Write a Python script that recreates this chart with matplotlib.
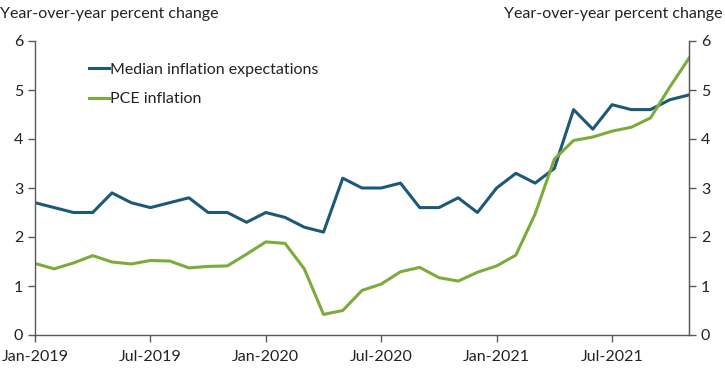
import matplotlib
matplotlib.use("Agg")
import matplotlib.pyplot as plt

months = ["Jan-2019", "Feb-2019", "Mar-2019", "Apr-2019", "May-2019", "Jun-2019",
          "Jul-2019", "Aug-2019", "Sep-2019", "Oct-2019", "Nov-2019", "Dec-2019",
          "Jan-2020", "Feb-2020", "Mar-2020", "Apr-2020", "May-2020", "Jun-2020",
          "Jul-2020", "Aug-2020", "Sep-2020", "Oct-2020", "Nov-2020", "Dec-2020",
          "Jan-2021", "Feb-2021", "Mar-2021", "Apr-2021", "May-2021", "Jun-2021",
          "Jul-2021", "Aug-2021", "Sep-2021", "Oct-2021", "Nov-2021"]
median_expectations = [2.7, 2.6, 2.5, 2.5, 2.9, 2.7, 2.6, 2.7, 2.8, 2.5, 2.5, 2.3,
                       2.5, 2.4, 2.2, 2.1, 3.2, 3.0, 3.0, 3.1, 2.6, 2.6, 2.8, 2.5,
                       3.0, 3.3, 3.1, 3.4, 4.6, 4.2, 4.7, 4.6, 4.6, 4.8, 4.9]
pce_inflation = [1.46, 1.35, 1.47, 1.62, 1.49, 1.45, 1.52, 1.51, 1.37, 1.40, 1.41, 1.65,
                 1.90, 1.87, 1.35, 0.42, 0.50, 0.91, 1.04, 1.29, 1.38, 1.17, 1.10, 1.28,
                 1.41, 1.63, 2.47, 3.59, 3.97, 4.04, 4.16, 4.24, 4.43, 5.06, 5.65]
tick_labels = ["Jan-2019", "Jul-2019", "Jan-2020", "Jul-2020", "Jan-2021", "Jul-2021"]
y_ticks = [0, 1, 2, 3, 4, 5, 6]

plt.rcParams['font.family'] = ['Lato', 'DejaVu Sans']
BLUE = "#1b5977"
GREEN = "#7dab3b"
GRAY = "#595959"
TXT = "#222222"

fig = plt.figure(figsize=(7.25, 3.71), dpi=100)
ax = fig.add_axes([35/725, 1-335/371, (689-35)/725, (335-41)/371])
x = list(range(len(months)))
ax.plot(x, median_expectations, color=BLUE, lw=2.2, label="Median inflation expectations")
ax.plot(x, pce_inflation, color=GREEN, lw=2.2, label="PCE inflation")
ax.set_xlim(0, len(months)-1)
ax.set_ylim(0, 6)
ax.set_yticks(y_ticks)
ax.set_xticks([months.index(t) for t in tick_labels])
ax.set_xticklabels(tick_labels)
ax.tick_params(axis='both', colors=GRAY, labelcolor=TXT, labelsize=11.5, length=5, width=1)
ax.tick_params(axis='x', pad=6)
ax.spines['top'].set_visible(False)
for s in ['left', 'right', 'bottom']:
    ax.spines[s].set_color(GRAY)
    ax.spines[s].set_linewidth(1)

ax2 = ax.twinx()
ax2.set_ylim(0, 6)
ax2.set_yticks(y_ticks)
ax2.tick_params(axis='y', colors=GRAY, labelcolor=TXT, labelsize=11.5, length=5, width=1)
for s in ['top', 'left', 'bottom']:
    ax2.spines[s].set_visible(False)
ax2.spines['right'].set_color(GRAY)

fig.text(0, 1-14/371, "Year-over-year percent change", ha='left', va='center',
         fontsize=11.5, color=TXT)
fig.text(1-2/725, 1-14/371, "Year-over-year percent change", ha='right', va='center',
         fontsize=11.5, color=TXT)

leg = ax.legend(loc='upper left', bbox_to_anchor=(0.06, 0.975), frameon=False,
                fontsize=11.5, handlelength=1.3, handletextpad=0.05, labelspacing=0.95)
for t in leg.get_texts():
    t.set_color(TXT)

fig.savefig("out.png", dpi=100)
